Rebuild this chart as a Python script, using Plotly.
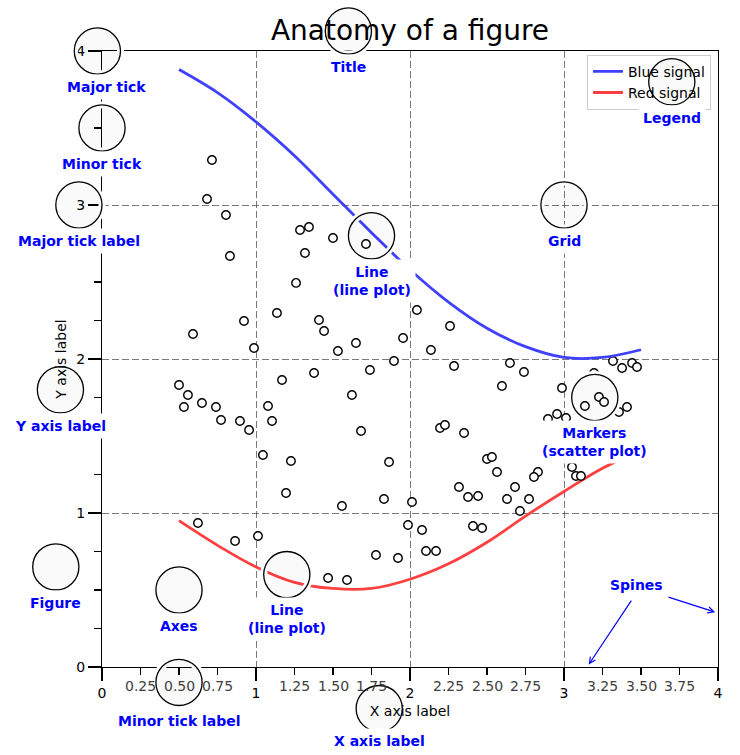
import plotly.graph_objects as go

# ---------------- data ----------------
line_x = [0.5, 0.75, 1.0, 1.25, 1.5, 1.75, 2.0, 2.25, 2.5, 2.75, 3.0, 3.25, 3.5]
blue_y = [3.88, 3.73, 3.54, 3.32, 3.07, 2.82, 2.58, 2.37, 2.20, 2.08, 2.01, 2.01, 2.06]
red_y = [0.95, 0.79, 0.65, 0.55, 0.51, 0.51, 0.57, 0.67, 0.81, 0.98, 1.14, 1.29, 1.41]

marker_x = [0.714, 0.682, 0.805, 0.831, 1.260, 1.136, 0.922, 0.591, 0.987, 1.169,
            0.500, 0.558, 0.532, 0.649, 0.740, 1.078, 0.773, 0.896, 1.104, 0.955,
            1.045, 1.227, 1.286, 1.344, 1.318, 1.500, 1.714, 2.045, 1.409, 1.442,
            2.260, 1.649, 1.532, 1.955, 2.136, 1.896, 2.286, 2.649, 1.377, 1.740,
            2.597, 1.623, 2.195, 2.227, 2.351, 1.682, 1.864, 2.500, 2.532, 2.565,
            2.740, 2.987, 3.318, 3.377, 3.442, 3.474, 3.195, 3.227, 3.260, 3.136,
            3.409, 3.357, 2.896, 2.955, 3.013, 3.052, 3.078, 3.110, 2.831, 2.805,
            2.682, 2.630, 2.773, 2.714, 2.318, 2.377, 2.442, 1.558, 1.831, 2.013,
            1.987, 2.078, 2.409, 2.468, 1.779, 1.922, 2.104, 2.169, 1.468, 1.591,
            1.195, 0.623, 0.864, 1.013]
marker_y = [3.292, 3.039, 2.935, 2.669, 2.494, 2.299, 2.247, 2.162, 2.071, 1.864,
            1.831, 1.766, 1.688, 1.714, 1.688, 1.695, 1.604, 1.597, 1.597, 1.539,
            1.377, 1.338, 2.838, 2.857, 2.688, 2.786, 2.747, 2.318, 2.253, 2.182,
            2.214, 2.104, 2.052, 2.136, 2.058, 1.987, 1.955, 1.974, 1.909, 1.929,
            1.825, 1.766, 1.552, 1.571, 1.519, 1.532, 1.331, 1.351, 1.364, 1.266,
            1.916, 1.812, 1.987, 1.942, 1.974, 1.948, 1.909, 1.753, 1.721, 1.695,
            1.688, 1.656, 1.610, 1.643, 1.617, 1.299, 1.240, 1.240, 1.266, 1.234,
            1.169, 1.091, 1.091, 1.013, 1.169, 1.104, 1.110, 1.045, 1.091, 1.071,
            0.922, 0.890, 0.916, 0.903, 0.727, 0.708, 0.753, 0.753, 0.578, 0.565,
            1.130, 0.935, 0.818, 0.851]

major_ticks = [0, 1, 2, 3, 4]
major_labels = ["0", "1", "2", "3", "4"]
minor_ticks = [0.25, 0.5, 0.75, 1.25, 1.5, 1.75, 2.25, 2.5, 2.75, 3.25, 3.5, 3.75]
minor_labels = ["0.25", "0.50", "0.75", "1.25", "1.50", "1.75",
                "2.25", "2.50", "2.75", "3.25", "3.50", "3.75"]

# callouts: circle centre (data units) and label anchor (data units)
callout_cx = [0.50, -0.03, 0.00, -0.15, 1.80, -0.27, 1.60, 1.75, 1.20, 3.20, 3.00, 3.70, 0.50, -0.30]
callout_cy = [-0.10, 4.00, 3.50, 3.00, -0.27, 1.80, 4.13, 2.80, 0.60, 1.75, 3.00, 3.80, 0.50, 0.65]
callout_tx = [0.50, 0.03, 0.00, -0.15, 1.80, -0.27, 1.60, 1.75, 1.20, 3.20, 3.00, 3.70, 0.50, -0.30]
callout_ty = [-0.32, 3.80, 3.30, 2.80, -0.45, 1.60, 3.93, 2.60, 0.40, 1.55, 2.80, 3.60, 0.30, 0.45]
callout_text = ["Minor tick label", "Major tick", "Minor tick", "Major tick label",
                "X axis label", "Y axis label", "Title", "Line<br>(line plot)",
                "Line<br>(line plot)", "Markers<br>(scatter plot)", "Grid", "Legend",
                "Axes", "Figure"]
circle_r = 0.15

# ---------------- layout constants ----------------
W, H = 740, 755
ML, MR, MT, MB = 102, 22, 51, 88
XR = [0, 4]
YR = [0, 4]
FONT = "DejaVu Sans"
TXT_BLUE = "blue"


def pxr(x):
    return (x - XR[0]) / (XR[1] - XR[0])


def pyr(y):
    return (y - YR[0]) / (YR[1] - YR[0])


fig = go.Figure()

fig.add_trace(go.Scatter(
    x=line_x, y=red_y, mode="lines", name="Red signal", legendrank=2,
    line=dict(color="#FF4040", width=2.8, shape="spline"), hoverinfo="skip"))
fig.add_trace(go.Scatter(
    x=marker_x, y=marker_y, mode="markers", showlegend=False, hoverinfo="skip",
    marker=dict(symbol="circle", size=8.5, color="white",
                line=dict(color="black", width=1.4))))
fig.add_trace(go.Scatter(
    x=line_x, y=blue_y, mode="lines", name="Blue signal", legendrank=1,
    line=dict(color="#4040FF", width=2.8, shape="spline"), hoverinfo="skip"))

axis_common = dict(
    range=XR, showline=True, linecolor="black", linewidth=1.1, mirror=True,
    ticks="outside", ticklen=13, tickwidth=1.4, tickcolor="black",
    tickmode="array", tickvals=major_ticks, ticktext=major_labels,
    tickfont=dict(family=FONT, size=14, color="black"),
    showgrid=True, gridcolor="#404040", gridwidth=0.7, griddash="7px,3px",
    zeroline=False, fixedrange=True,
    minor=dict(tickmode="array", tickvals=minor_ticks, ticks="outside", ticklen=7,
               tickwidth=1.4, tickcolor="black", showgrid=False),
)

fig.update_xaxes(**axis_common,
                 title=dict(text="X axis label", font=dict(family=FONT, size=14, color="black"),
                            standoff=6))
fig.update_yaxes(**{**axis_common, "range": YR},
                 title=dict(text="Y axis label", font=dict(family=FONT, size=14, color="black"),
                            standoff=6))

shapes = []
annotations = []

# callout circles: white halo + thin black ring
for cx, cy in zip(callout_cx, callout_cy):
    x0, x1 = pxr(cx - circle_r), pxr(cx + circle_r)
    y0, y1 = pyr(cy - circle_r), pyr(cy + circle_r)
    shapes.append(dict(type="circle", xref="paper", yref="paper", x0=x0, x1=x1, y0=y0, y1=y1,
                       line=dict(color="white", width=7), fillcolor="rgba(0,0,0,0)",
                       layer="above"))
    shapes.append(dict(type="circle", xref="paper", yref="paper", x0=x0, x1=x1, y0=y0, y1=y1,
                       line=dict(color="black", width=1.3), fillcolor="rgba(0,0,0,0.02)",
                       layer="above"))

# callout labels
for tx, ty, t in zip(callout_tx, callout_ty, callout_text):
    annotations.append(dict(
        x=pxr(tx), y=pyr(ty), xref="paper", yref="paper", text=t, showarrow=False,
        xanchor="center", yanchor="top", yshift=8, align="center",
        bgcolor="white", borderpad=4,
        font=dict(family=FONT, size=14, color=TXT_BLUE, weight="bold")))

# minor tick labels on x axis
for v, t in zip(minor_ticks, minor_labels):
    annotations.append(dict(
        x=v, xref="x", y=0, yref="paper", text=t, showarrow=False,
        xanchor="center", yanchor="top", yshift=-9,
        font=dict(family=FONT, size=14, color="#404040")))

# Spines label and arrows
annotations.append(dict(
    x=pxr(3.3), y=pyr(0.5), xref="paper", yref="paper", text="Spines", showarrow=False,
    xanchor="left", yanchor="bottom", yshift=-5, xshift=-2,
    font=dict(family=FONT, size=14, color=TXT_BLUE, weight="bold")))
annotations.append(dict(
    x=4.0, y=0.35, xref="x", yref="y", ax=3.675, ay=0.455, axref="x", ayref="y",
    text="", showarrow=True, arrowhead=5, arrowsize=1.0, arrowwidth=1.2,
    arrowcolor=TXT_BLUE, standoff=3, borderpad=0))
annotations.append(dict(
    x=3.15, y=0.0, xref="x", yref="y", ax=3.45, ay=0.45, axref="x", ayref="y",
    text="", showarrow=True, arrowhead=5, arrowsize=1.0, arrowwidth=1.2,
    arrowcolor=TXT_BLUE, standoff=3, startstandoff=3, borderpad=0))

fig.update_layout(
    width=W, height=H,
    margin=dict(l=ML, r=MR, t=MT, b=MB, autoexpand=False),
    paper_bgcolor="white", plot_bgcolor="white",
    font=dict(family=FONT, size=14, color="black"),
    title=dict(text="Anatomy of a figure", x=0.5, xref="paper", xanchor="center",
               y=1, yref="paper", yanchor="bottom", pad=dict(b=11),
               font=dict(family=FONT, size=28, color="black")),
    showlegend=True,
    legend=dict(x=0.9886, y=0.994, xanchor="right", yanchor="top",
                bgcolor="rgba(255,255,255,0)", bordercolor="#cccccc", borderwidth=1,
                font=dict(family=FONT, size=14, color="black"),
                itemwidth=30, tracegroupgap=0),
    shapes=shapes,
    annotations=annotations,
    hovermode=False,
)

fig.write_html("out.html",
               config={"displayModeBar": False, "staticPlot": True},
               post_script="document.body.style.margin='0px';document.body.style.overflow='hidden';")
